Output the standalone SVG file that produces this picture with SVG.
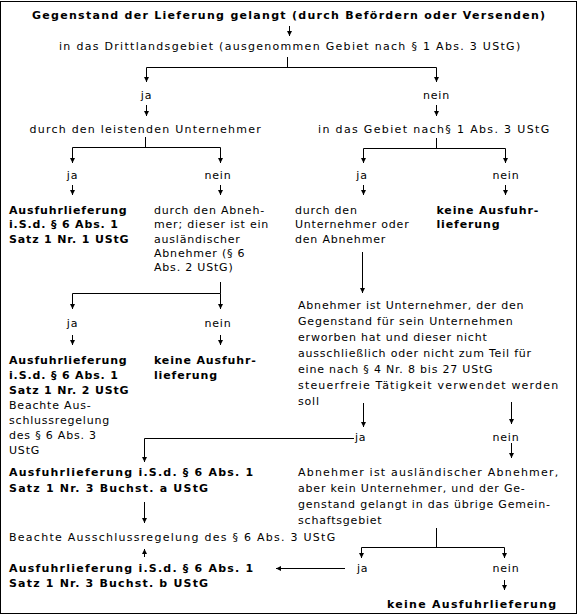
<svg xmlns="http://www.w3.org/2000/svg" width="579" height="615" viewBox="0 0 579 615">
<defs>
<marker id="ah" markerUnits="userSpaceOnUse" markerWidth="6" markerHeight="6" refX="5" refY="2.5" orient="auto">
<path d="M0,0 L5,2.5 L0,5 z" fill="#000"/>
</marker>
<style>
text{font-family:"DejaVu Sans",Verdana,sans-serif;font-size:11px;fill:#000;letter-spacing:0.8px}
.b{font-weight:bold;letter-spacing:0.85px}
.m{text-anchor:middle}
.c path{fill:none;stroke:#000;stroke-width:1}
.a{marker-end:url(#ah)}
</style>
</defs>
<rect x="0" y="0" width="579" height="615" fill="#fff"/>
<rect x="0.5" y="1.5" width="576" height="612" fill="none" stroke="#000" stroke-width="1"/>
<g id="connectors" class="c">
<path class="a" d="M289.5,26 V36"/>
<path d="M287.5,57 V67.5 M146.5,67.5 H436.5"/>
<path class="a" d="M146.5,67.5 V82"/>
<path class="a" d="M436.5,67.5 V82"/>
<path class="a" d="M146.5,105 V116"/>
<path class="a" d="M436.5,105 V116"/>
<path d="M145.5,137 V147.5 M72.5,147.5 H220.5"/>
<path class="a" d="M72.5,147.5 V163"/>
<path class="a" d="M220.5,147.5 V163"/>
<path d="M436.5,138 V148.5 M363.5,148.5 H505.5"/>
<path class="a" d="M363.5,148.5 V163"/>
<path class="a" d="M505.5,148.5 V163"/>
<path class="a" d="M72.5,185 V195"/>
<path class="a" d="M220.5,185 V195"/>
<path class="a" d="M363.5,185 V195"/>
<path class="a" d="M505.5,185 V195"/>
<path d="M220.5,282 V293.5 M72.5,293.5 H220.5"/>
<path class="a" d="M72.5,293.5 V309"/>
<path class="a" d="M220.5,293.5 V309"/>
<path class="a" d="M72.5,335 V345"/>
<path class="a" d="M220.5,335 V345"/>
<path class="a" d="M362.5,252 V293"/>
<path class="a" d="M363.5,403 V427"/>
<path class="a" d="M511.5,402 V424"/>
<path class="a" d="M354,438.5 H144.5 V462"/>
<path class="a" d="M511.5,443 V458"/>
<path class="a" d="M144.5,502 V523"/>
<path class="a" d="M144.5,557 V549"/>
<path d="M436.5,528 V547.5 M361.5,547.5 H504.5"/>
<path class="a" d="M361.5,547.5 V558"/>
<path class="a" d="M504.5,547.5 V558"/>
<path class="a" d="M345,568.5 H276"/>
<path class="a" d="M504.5,580 V590"/>
</g>
<g id="n-title"><text class="b m" x="289" y="19" textLength="514" lengthAdjust="spacing">Gegenstand der Lieferung gelangt (durch Befördern oder Versenden)</text></g>
<g id="n-drittland"><text class="m" x="290" y="50" textLength="462" lengthAdjust="spacing">in das Drittlandsgebiet (ausgenommen Gebiet nach § 1 Abs. 3 UStG)</text></g>
<g id="n-ja1"><text class="m" x="146.5" y="99">ja</text></g>
<g id="n-nein1"><text class="m" x="436.5" y="99">nein</text></g>
<g id="n-leistend"><text x="29.5" y="133" textLength="232" lengthAdjust="spacing">durch den leistenden Unternehmer</text></g>
<g id="n-gebiet"><text x="318" y="133" textLength="232" lengthAdjust="spacing">in das Gebiet nach§ 1 Abs. 3 UStG</text></g>
<g id="n-ja2"><text class="m" x="72.5" y="178.5">ja</text></g>
<g id="n-nein2"><text class="m" x="218" y="178.5">nein</text></g>
<g id="n-ja3"><text class="m" x="362" y="178.5">ja</text></g>
<g id="n-nein3"><text class="m" x="506" y="178.5">nein</text></g>
<g id="n-af1">
<text class="b" x="9" y="214">Ausfuhrlieferung</text>
<text class="b" x="9" y="228">i.S.d. § 6 Abs. 1</text>
<text class="b" x="9" y="242.5">Satz 1 Nr. 1 UStG</text>
</g>
<g id="n-abnehmer">
<text x="154" y="214">durch den Abneh-</text>
<text x="154" y="228">mer; dieser ist ein</text>
<text x="154" y="242.5">ausländischer</text>
<text x="154" y="256.5">Abnehmer (§ 6</text>
<text x="154" y="270.5">Abs. 2 UStG)</text>
</g>
<g id="n-unternehmer">
<text x="295" y="214">durch den</text>
<text x="295" y="228">Unternehmer oder</text>
<text x="295" y="242.5">den Abnehmer</text>
</g>
<g id="n-keine1">
<text class="b" x="436.5" y="214">keine Ausfuhr-</text>
<text class="b" x="436.5" y="228">lieferung</text>
</g>
<g id="n-ja4"><text class="m" x="72.5" y="326.5">ja</text></g>
<g id="n-nein4"><text class="m" x="218" y="326.5">nein</text></g>
<g id="n-af2">
<text class="b" x="9" y="364">Ausfuhrlieferung</text>
<text class="b" x="9" y="379">i.S.d. § 6 Abs. 1</text>
<text class="b" x="9" y="394">Satz 1 Nr. 2 UStG</text>
<text x="9" y="409">Beachte Aus-</text>
<text x="9" y="424">schlussregelung</text>
<text x="9" y="439">des § 6 Abs. 3</text>
<text x="9" y="454">UStG</text>
</g>
<g id="n-keine2">
<text class="b" x="154" y="364">keine Ausfuhr-</text>
<text class="b" x="154" y="379">lieferung</text>
</g>
<g id="n-unternehmerfrage">
<text x="298" y="309">Abnehmer ist Unternehmer, der den</text>
<text x="298" y="325">Gegenstand für sein Unternehmen</text>
<text x="298" y="341">erworben hat und dieser nicht</text>
<text x="298" y="357">ausschließlich oder nicht zum Teil für</text>
<text x="298" y="373">eine nach § 4 Nr. 8 bis 27 UStG</text>
<text x="298" y="389" textLength="261" lengthAdjust="spacing">steuerfreie Tätigkeit verwendet werden</text>
<text x="298" y="405">soll</text>
</g>
<g id="n-ja5"><text x="355" y="441">ja</text></g>
<g id="n-nein5"><text class="m" x="506" y="441">nein</text></g>
<g id="n-af3">
<text class="b" x="9" y="476" textLength="245" lengthAdjust="spacing">Ausfuhrlieferung i.S.d. § 6 Abs. 1</text>
<text class="b" x="9" y="492" textLength="200" lengthAdjust="spacing">Satz 1 Nr. 3 Buchst. a UStG</text>
</g>
<g id="n-auslaendisch">
<text x="298" y="476" textLength="261" lengthAdjust="spacing">Abnehmer ist ausländischer Abnehmer,</text>
<text x="298" y="492">aber kein Unternehmer, und der Ge-</text>
<text x="298" y="508">genstand gelangt in das übrige Gemein-</text>
<text x="298" y="524">schaftsgebiet</text>
</g>
<g id="n-beachte"><text x="9" y="541" textLength="327" lengthAdjust="spacing">Beachte Ausschlussregelung des § 6 Abs. 3 UStG</text></g>
<g id="n-af4">
<text class="b" x="9" y="572" textLength="245" lengthAdjust="spacing">Ausfuhrlieferung i.S.d. § 6 Abs. 1</text>
<text class="b" x="9" y="587" textLength="200" lengthAdjust="spacing">Satz 1 Nr. 3 Buchst. b UStG</text>
</g>
<g id="n-ja6"><text x="357" y="572">ja</text></g>
<g id="n-nein6"><text class="m" x="506" y="572">nein</text></g>
<g id="n-keine3"><text class="b" x="387" y="608" textLength="170" lengthAdjust="spacing">keine Ausfuhrlieferung</text></g>
</svg>
